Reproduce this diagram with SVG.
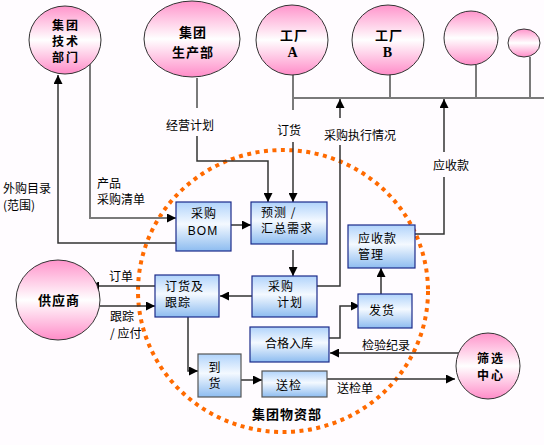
<svg xmlns="http://www.w3.org/2000/svg" width="544" height="445" viewBox="0 0 544 445">
<defs>
<linearGradient id="pink" x1="0" y1="0" x2="0" y2="1">
<stop offset="0" stop-color="#ff94cb"/>
<stop offset="0.5" stop-color="#ffffff"/>
<stop offset="1" stop-color="#ff8cc8"/>
</linearGradient>
<linearGradient id="blue" x1="0" y1="0" x2="0" y2="1">
<stop offset="0" stop-color="#b0d3fb"/>
<stop offset="0.45" stop-color="#f4f9ff"/>
<stop offset="1" stop-color="#8dbcf0"/>
</linearGradient>
<marker id="ah" viewBox="0 0 10 10" refX="10" refY="5" markerWidth="9" markerHeight="9" markerUnits="userSpaceOnUse" orient="auto">
<path d="M0,0 L10,5 L0,10 z" fill="#000"/>
</marker>
<style>
.c{fill:url(#pink);stroke:#333;stroke-width:1}
.b{fill:url(#blue);stroke:#1c2a8a;stroke-width:1.2}
.bg{fill:url(#blue);stroke:#555;stroke-width:1.2}
.t{font-family:"Noto Sans CJK SC","Noto Sans",sans-serif;font-size:12px;letter-spacing:1px;fill:#000}
.l{font-family:"Noto Sans CJK SC","Noto Sans",sans-serif;font-size:12px;fill:#000}
.h{font-family:"Noto Sans CJK SC","Noto Sans",sans-serif;font-size:13px;letter-spacing:1px;font-weight:bold;fill:#000}
.h2{font-family:"Noto Sans CJK SC","Noto Sans",sans-serif;font-size:12px;letter-spacing:2px;font-weight:bold;fill:#000}
.s{font-family:"Liberation Serif",serif;font-size:14px;font-weight:bold}
.k{fill:none;stroke:#333;stroke-width:1.5}
.g{fill:none;stroke:#7a7a7a;stroke-width:2}
.a{marker-end:url(#ah)}
</style>
</defs>
<rect width="544" height="445" fill="#fffcff"/>
<ellipse cx="283" cy="291" rx="145" ry="141" fill="none" stroke="#ff6a00" stroke-width="4" stroke-dasharray="4 4.5"/>
<g id="connectors">
<path class="g" d="M293,98 H544 M293,74 V98 M390,74 V98 M476,65 V98 M530,57 V98"/>
<path class="k a" d="M176,243 H58 V75"/>
<path class="g a" d="M90,56 V218 H176"/>
<path class="g" d="M197,78 V108"/>
<path class="k a" d="M197,136 V161 H268 V202"/>
<path class="g" d="M293,98 V110"/>
<path class="k a" d="M293,142 V202"/>
<path class="k" d="M317,286 H340 V145"/>
<path class="k a" d="M340,118 V99"/>
<path class="k" d="M415,234 H444 V177"/>
<path class="k a" d="M444,152 V99"/>
<path class="k a" d="M231,225 H251"/>
<path class="k a" d="M293,250 V276"/>
<path class="k a" d="M257,296 H220"/>
<path class="k a" d="M155,286 H90"/>
<path class="k a" d="M100,306 H155"/>
<path class="k a" d="M188,317 V371 H198"/>
<path class="k a" d="M241,380 H262"/>
<path class="k a" d="M327,379 H455"/>
<path class="k a" d="M467,353 H330"/>
<path class="k a" d="M329,338 H340 V306 H360"/>
<path class="k a" d="M381,294 V268"/>
</g>
<g id="n-tech"><ellipse class="c" cx="65" cy="40" rx="36" ry="34"/><text class="h2" text-anchor="middle"><tspan x="66" y="30">集团</tspan><tspan x="66" y="46">技术</tspan><tspan x="66" y="62">部门</tspan></text></g>
<g id="n-prod"><ellipse class="c" cx="192" cy="39" rx="48" ry="38"/><text class="h" text-anchor="middle"><tspan x="193" y="37">集团</tspan><tspan x="193" y="57">生产部</tspan></text></g>
<g id="n-fa"><ellipse class="c" cx="292" cy="40" rx="36" ry="35"/><text class="h" text-anchor="middle"><tspan x="294" y="40">工厂</tspan><tspan class="s" x="293" y="57">A</tspan></text></g>
<g id="n-fb"><ellipse class="c" cx="388" cy="40" rx="36" ry="35"/><text class="h" text-anchor="middle"><tspan x="389" y="40">工厂</tspan><tspan class="s" x="388" y="57">B</tspan></text></g>
<g id="n-c5"><ellipse class="c" cx="471" cy="38" rx="27" ry="27"/></g>
<g id="n-c6"><ellipse class="c" cx="524" cy="43" rx="16" ry="14"/></g>
<g id="n-sup"><ellipse class="c" cx="58" cy="300" rx="42" ry="40"/><text class="h" text-anchor="middle" x="59" y="305">供应商</text></g>
<g id="n-screen"><ellipse class="c" cx="488" cy="366" rx="32" ry="33"/><text class="h2" text-anchor="middle"><tspan x="491" y="363">筛选</tspan><tspan x="491" y="380">中心</tspan></text></g>
<g id="n-bom"><rect class="b" x="176" y="202" width="55" height="49"/><text class="t" text-anchor="middle"><tspan x="204" y="218">采购</tspan><tspan x="203" y="235" style="font-family:'Liberation Sans',sans-serif">BOM</tspan></text></g>
<g id="n-forecast"><rect class="b" x="251" y="202" width="76" height="42"/><text class="t"><tspan x="261" y="217">预测 /</tspan><tspan x="261" y="233">汇总需求</tspan></text></g>
<g id="n-plan"><rect class="b" x="252" y="276" width="65" height="41"/><text class="t"><tspan x="268" y="291">采购</tspan><tspan x="277" y="307">计划</tspan></text></g>
<g id="n-order"><rect class="b" x="155" y="275" width="64" height="42"/><text class="t"><tspan x="165" y="291">订货及</tspan><tspan x="165" y="307">跟踪</tspan></text></g>
<g id="n-ar"><rect class="b" x="348" y="225" width="67" height="43"/><text class="t"><tspan x="358" y="243">应收款</tspan><tspan x="358" y="259">管理</tspan></text></g>
<g id="n-ship"><rect class="b" x="358" y="294" width="54" height="34"/><text class="t" x="369" y="315">发货</text></g>
<g id="n-stock"><rect class="b" x="250" y="327" width="79" height="35"/><text class="l" text-anchor="middle" x="289" y="348">合格入库</text></g>
<g id="n-arrive"><rect class="bg" x="198" y="354" width="43" height="43"/><text class="t" text-anchor="middle"><tspan x="215" y="372">到</tspan><tspan x="215" y="388">货</tspan></text></g>
<g id="n-inspect"><rect class="bg" x="262" y="371" width="65" height="26"/><text class="t" text-anchor="middle" x="289" y="390">送检</text></g>
<g id="labels">
<text class="l" text-anchor="middle" x="190" y="130">经营计划</text>
<text class="l" text-anchor="middle" x="289" y="135">订货</text>
<text class="l" text-anchor="middle" x="360" y="140">采购执行情况</text>
<text class="l" text-anchor="middle" x="451" y="170">应收款</text>
<text class="l"><tspan x="3" y="193">外购目录</tspan><tspan x="3" y="210">(范围)</tspan></text>
<text class="l"><tspan x="97" y="188">产品</tspan><tspan x="97" y="204">采购清单</tspan></text>
<text class="l" text-anchor="middle" x="121" y="281">订单</text>
<text class="l"><tspan x="110" y="321">跟踪</tspan><tspan x="110" y="338">/ 应付</tspan></text>
<text class="l" text-anchor="middle" x="386" y="350">检验纪录</text>
<text class="l" text-anchor="middle" x="355" y="393">送检单</text>
<text class="h" text-anchor="middle" x="287" y="419">集团物资部</text>
</g>
</svg>
